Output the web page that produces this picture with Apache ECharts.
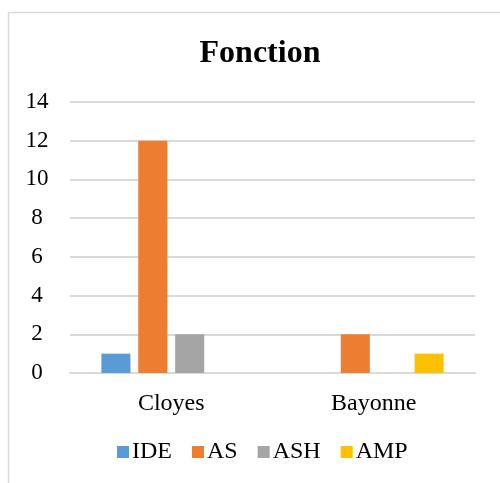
<!DOCTYPE html>
<html>
<head>
<meta charset="utf-8">
<script src="https://cdn.jsdelivr.net/npm/echarts@6/dist/echarts.min.js"></script>
<style>
html,body{margin:0;padding:0;background:#fff;}
#chart{width:500px;height:483px;}
</style>
</head>
<body>
<div id="chart"></div>
<script>
// chart data
const categories=["Cloyes","Bayonne"];
const seriesNames=["IDE","AS","ASH","AMP"];
const ideValues=[1,0];
const asValues=[12,2];
const ashValues=[2,0];
const ampValues=[0,1];
const colors=["#5B9BD5","#ED7D31","#A5A5A5","#FFC000"];

const font="'Liberation Serif', 'Times New Roman', serif";
const values=[ideValues,asValues,ashValues,ampValues];

const chart=echarts.init(document.getElementById("chart"));

chart.setOption({
    animation:false,
    graphic:[{
        type:"rect",
        shape:{x:8.5,y:12.5,width:600,height:600},
        style:{fill:"none",stroke:"#d9d9d9",lineWidth:1.5}
    }],
    title:{
        text:"Fonction",
        left:255,
        textAlign:"center",
        top:33,
        textStyle:{fontFamily:font,fontSize:32,fontWeight:"bold",color:"#000"}
    },
    legend:{
        data:seriesNames,
        top:435,
        left:112,
        itemWidth:12,
        itemHeight:12,
        itemGap:20,
        icon:"rect",
        textStyle:{fontFamily:font,fontSize:24,color:"#000",padding:[0,0,0,-2]}
    },
    grid:{left:70,right:25,top:102,bottom:110,containLabel:false},
    xAxis:{
        type:"category",
        data:categories,
        axisLine:{lineStyle:{color:"#d9d9d9",width:2}},
        axisTick:{show:false},
        axisLabel:{fontFamily:font,fontSize:24,color:"#000",margin:19}
    },
    yAxis:{
        type:"value",
        min:0,
        max:14,
        interval:2,
        axisLine:{show:false},
        axisTick:{show:false},
        splitLine:{lineStyle:{color:"#d9d9d9",width:2}},
        axisLabel:{fontFamily:font,fontSize:23,color:"#000",margin:33,align:"center"}
    },
    series:seriesNames.map((name,i)=>({
        name:name,
        type:"bar",
        data:values[i],
        barGap:"27%",
        barCategoryGap:"31%",
        itemStyle:{color:colors[i]}
    }))
});
</script>
</body>
</html>
